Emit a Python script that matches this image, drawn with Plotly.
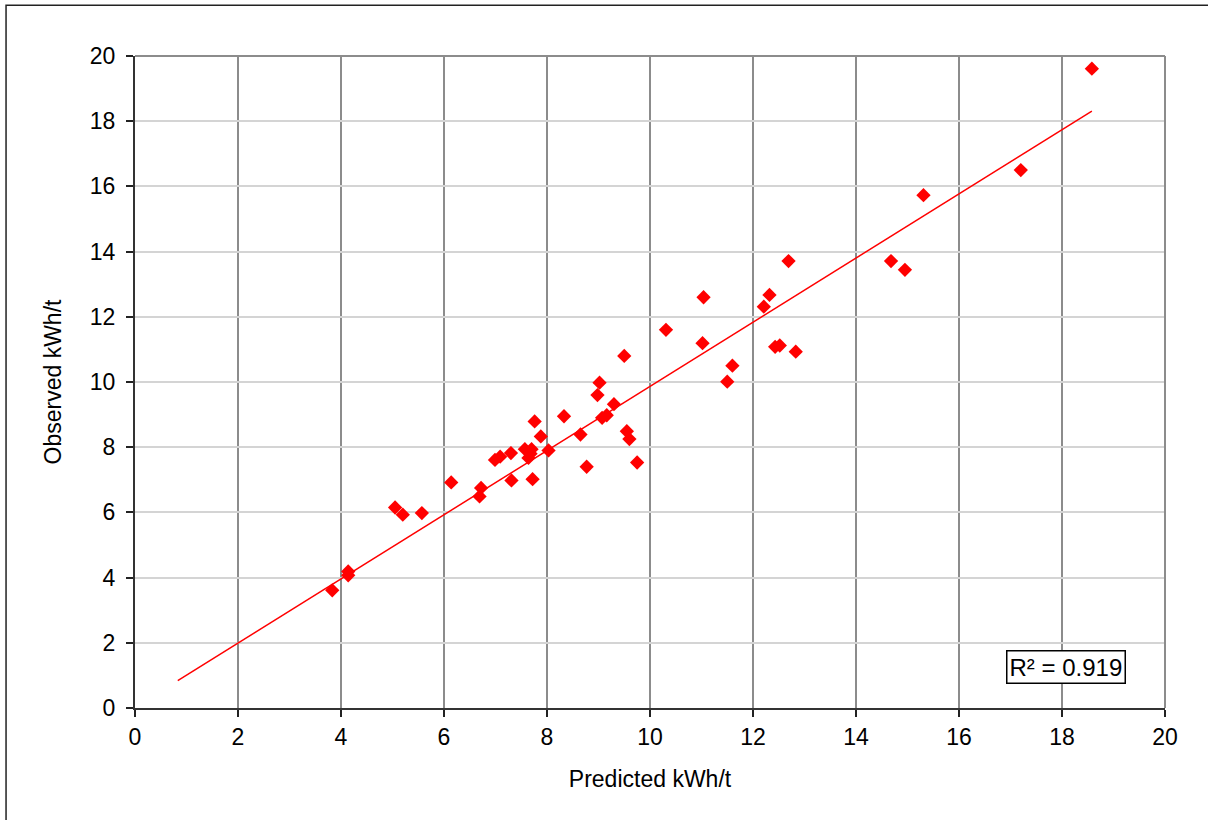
import plotly.graph_objects as go

# Data
predicted = [3.83, 4.14, 4.14, 5.05, 5.20, 5.57, 6.14, 6.69, 6.72, 6.99, 7.09, 7.31, 7.30,
             7.57, 7.70, 7.64, 7.68, 7.72, 7.76, 7.88, 8.03, 8.33, 8.65, 8.77, 9.07, 9.16,
             9.30, 9.55, 9.60, 9.75, 9.50, 9.02, 8.98, 10.31, 11.02, 11.04, 11.50, 11.60,
             12.21, 12.32, 12.43, 12.52, 12.83, 12.69, 14.68, 14.95, 15.31, 17.20, 18.58]
observed = [3.61, 4.19, 4.07, 6.15, 5.93, 5.98, 6.92, 6.49, 6.75, 7.61, 7.71, 6.98, 7.82,
            7.94, 7.94, 7.67, 7.80, 7.02, 8.79, 8.33, 7.90, 8.95, 8.39, 7.40, 8.90, 8.98,
            9.32, 8.49, 8.25, 7.53, 10.80, 9.98, 9.60, 11.60, 11.19, 12.60, 10.01, 10.50,
            12.31, 12.67, 11.08, 11.12, 10.93, 13.71, 13.71, 13.44, 15.73, 16.50, 19.61]

trend_x = [0.83, 18.58]
trend_y = [0.84, 18.31]

r2_text = "R² = 0.919"
x_title = "Predicted kWh/t"
y_title = "Observed kWh/t"
tick_vals = [0, 2, 4, 6, 8, 10, 12, 14, 16, 18, 20]

FONT = "Arial, 'Liberation Sans', sans-serif"

fig = go.Figure()
fig.add_trace(go.Scatter(x=trend_x, y=trend_y, mode="lines",
                         line=dict(color="#ff0000", width=1.5),
                         showlegend=False, hoverinfo="skip"))
fig.add_trace(go.Scatter(x=predicted, y=observed, mode="markers",
                         marker=dict(symbol="diamond", size=11, color="#ff0000",
                                     line=dict(width=0)),
                         showlegend=False))

axis_common = dict(range=[0, 20], tickmode="array", tickvals=tick_vals,
                   ticks="outside", ticklen=7, tickwidth=1.5, tickcolor="#222222",
                   showline=True, linecolor="#333333", linewidth=2,
                   zeroline=False, mirror=False,
                   tickfont=dict(family=FONT, size=23, color="#000000"))

fig.update_xaxes(**axis_common, showgrid=True, gridcolor="#8c8c8c", gridwidth=2,
                 title=dict(text=x_title, font=dict(family=FONT, size=23, color="#000000"),
                            standoff=22))
fig.update_yaxes(**axis_common, showgrid=True, gridcolor="#d4d4d4", gridwidth=2,
                 ticklabelstandoff=6,
                 title=dict(text=y_title, font=dict(family=FONT, size=23, color="#000000"),
                            standoff=22))

# plot area top/right border (gray)
fig.add_shape(type="line", xref="paper", yref="paper", x0=0, x1=1, y0=1, y1=1,
              line=dict(color="#8c8c8c", width=2))
fig.add_shape(type="line", xref="paper", yref="paper", x0=1, x1=1, y0=0, y1=1,
              line=dict(color="#8c8c8c", width=2))
# outer chart border
fig.add_shape(type="rect", xref="paper", yref="paper",
              x0=-0.1252, x1=1.06, y0=-0.2, y1=1.0777,
              line=dict(color="#222222", width=1.5), layer="below")

fig.add_annotation(x=18.08, y=1.256, xref="x", yref="y", text=r2_text, showarrow=False,
                   font=dict(family=FONT, size=24, color="#000000"),
                   bordercolor="#000000", borderwidth=1.5, borderpad=2,
                   bgcolor="#ffffff")

fig.update_layout(width=1208, height=820,
                  margin=dict(l=135, r=43, t=56, b=112),
                  paper_bgcolor="#ffffff", plot_bgcolor="#ffffff",
                  font=dict(family=FONT))

fig.write_html("out.html")
